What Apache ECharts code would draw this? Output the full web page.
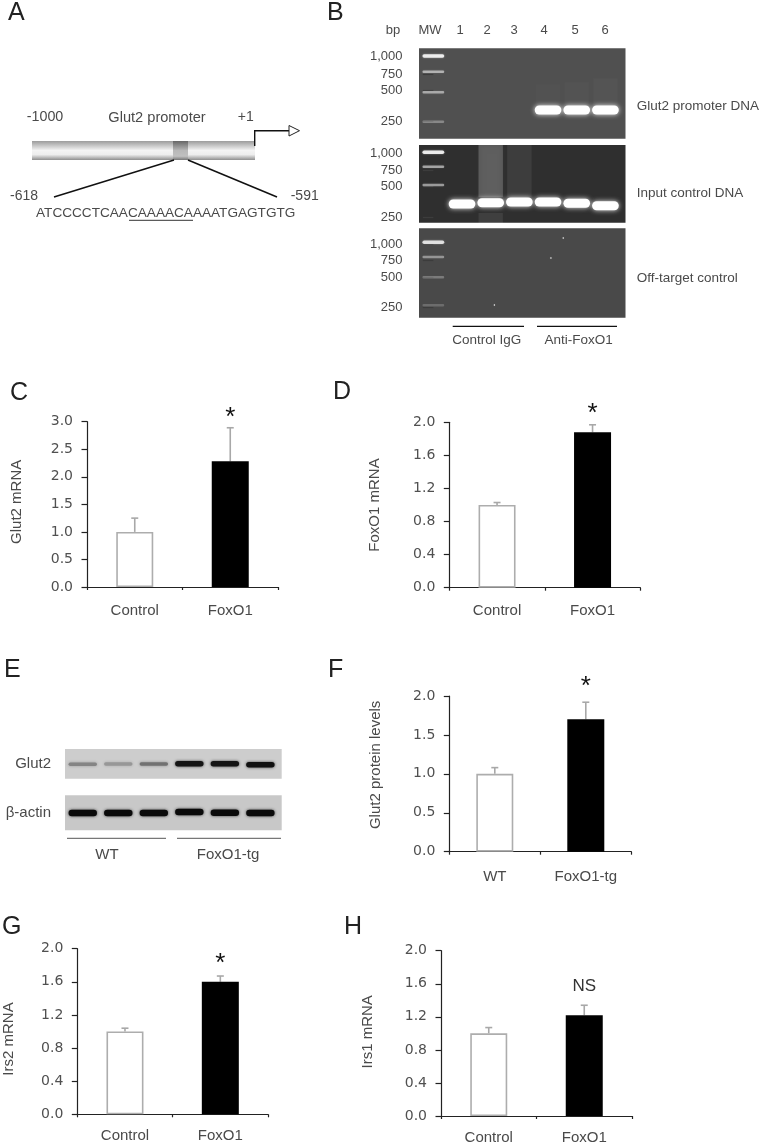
<!DOCTYPE html>
<html><head><meta charset="utf-8">
<style>html,body{margin:0;padding:0;background:#fff}#c{width:762px;height:1143px}</style>
<script src="https://cdn.jsdelivr.net/npm/echarts@6/dist/echarts.min.js"></script>
</head><body><div id="c"></div>
<script>
// ---- bar panels ----
const catsMrna = ['Control','FoxO1'];
const catsProtein = ['WT','FoxO1-tg'];
const glut2Mrna = [1.0,2.28],  glut2MrnaErr = [0.25,0.61];
const foxo1Mrna = [1.0,1.88],  foxo1MrnaErr = [0.03,0.09];
const glut2Prot = [1.0,1.70],  glut2ProtErr = [0.08,0.22];
const irs2Mrna  = [1.0,1.60],  irs2MrnaErr  = [0.04,0.07];
const irs1Mrna  = [1.0,1.22],  irs1MrnaErr  = [0.07,0.12];
// ---- gels: [lane, migration, intensity] ----
const gelLaneLabels = ['MW','1','2','3','4','5','6'];
const gelBp = ['1,000','750','500','250'];
const gel1Ticks = [8.4,25.7,42.4,72.7];
const gel2Ticks = [8.3,25,41.7,72.7];
const gel3Ticks = [15.7,32,49,79.4];
const gel1Ladder = [[0,7.7,1],[0,23.4,.6],[0,44,.55],[0,73.4,.35]];
const gel2Ladder = [[0,7.3,1],[0,21.7,.6],[0,40,.55]];
const gel3Ladder = [[0,14,.9],[0,28.7,.45],[0,49,.3],[0,77,.22]];
const gel1Samples = [[4,61.7],[5,61.7],[6,61.7]];
const gel2Samples = [[1,59],[2,57.7],[3,57],[4,57],[5,58.3],[6,60.7]];
const gel1Smears = [[4,36,58,.012],[5,34,58,.018],[6,30,58,.025]];
const gel2Smears = [[2,0,52,.2],[2,68,78,.08],[3,0,52,.07]];
const gel3Specks = [[4.1,29.7],[2.13,76.7],[4.53,9.7]];
// ---- western blot: [lane, migration, intensity] ----
const blotGlut2 = [[0,15.3,.36],[1,15,.26],[2,15,.46],[3,14.7,.95],[4,14.7,.95],[5,15.7,.97]];
const blotActin = [[0,17.7,1],[1,17.7,1],[2,17.7,1],[3,16.7,1],[4,17.4,1],[5,17.7,1]];

const FONT='"Liberation Sans",Arial,sans-serif', INK='#4a4a4a';
const grid=[],xAxis=[],yAxis=[],series=[];

function barPanel(o){
  const i=grid.length;
  grid.push({left:o.l,top:o.t,width:o.w,height:o.h,outerBoundsMode:'none'});
  xAxis.push({gridIndex:i,type:'category',data:o.cats,
    axisLine:{lineStyle:{color:'#222',width:1.2}},
    axisTick:{show:true,length:3,alignWithLabel:false,lineStyle:{color:'#222',width:1.2}},
    axisLabel:{interval:0,margin:o.catMargin,fontFamily:FONT,fontSize:15,color:INK}});
  yAxis.push({gridIndex:i,type:'value',min:0,max:o.max,interval:o.step,
    name:o.name,nameLocation:'middle',nameGap:o.gap,nameRotate:90,nameMoveOverlap:false,
    nameTextStyle:{fontFamily:FONT,fontSize:15,color:INK,padding:o.pad||0},
    axisLine:{show:true,lineStyle:{color:'#222',width:1.2}},
    axisTick:{show:true,length:5.5,lineStyle:{color:'#222',width:1.2}},
    splitLine:{show:false},
    axisLabel:{margin:14,fontFamily:'"DejaVu Sans",sans-serif',fontSize:14,color:'#505050',
      formatter:v=>v.toFixed(1)}});
  series.push({type:'custom',xAxisIndex:i,yAxisIndex:i,z:1,silent:true,
    data:o.vals.map((v,k)=>[k,v,o.errs[k]]),encode:{x:0,y:[1,2]},
    renderItem:(p,api)=>{
      const a=api.coord([api.value(0),api.value(1)]),b=api.coord([api.value(0),api.value(1)+api.value(2)]);
      const st={stroke:'#a8a8a8',lineWidth:1.6};
      return {type:'group',children:[
        {type:'line',shape:{x1:a[0],y1:a[1],x2:b[0],y2:b[1]},style:st},
        {type:'line',shape:{x1:b[0]-3.5,y1:b[1],x2:b[0]+3.5,y2:b[1]},style:st}]};
    }});
  series.push({type:'bar',xAxisIndex:i,yAxisIndex:i,z:2,barWidth:37,silent:true,
    data:o.vals.map((v,k)=>({value:v,itemStyle:k===0
      ?{color:'#fff',borderColor:'#adadad',borderWidth:1.6}
      :{color:'#000',borderColor:'#000',borderWidth:0}}))});
  series.push({type:'custom',xAxisIndex:i,yAxisIndex:i,z:3,silent:true,
    data:[[1,o.noteAt]],encode:{x:0,y:1},
    renderItem:(p,api)=>{
      const c=api.coord([api.value(0),api.value(1)]);
      const star=o.note==='*';
      return {type:'text',style:{x:c[0],y:c[1]+(star?5:0),text:o.note,align:'center',verticalAlign:'middle',
        fontFamily:FONT,fontSize:star?26:17,fill:star?'#111':'#333'}};
    }});
}
barPanel({l:87,t:421.7,w:191,h:165.3,cats:catsMrna,vals:glut2Mrna,errs:glut2MrnaErr,max:3,step:.5,name:'Glut2 mRNA',gap:63,catMargin:16,note:'*',noteAt:3.16,pad:[0,0,0,5]});
barPanel({l:449.3,t:422.3,w:191,h:165.4,cats:catsMrna,vals:foxo1Mrna,errs:foxo1MrnaErr,max:2,step:.4,name:'FoxO1 mRNA',gap:67,catMargin:15.5,note:'*',noteAt:2.16});
barPanel({l:449.3,t:696,w:182,h:155.7,cats:catsProtein,vals:glut2Prot,errs:glut2ProtErr,max:2,step:.5,name:'Glut2 protein levels',gap:66,catMargin:18,note:'*',noteAt:2.18,pad:[0,0,0,18]});
barPanel({l:77.3,t:948.7,w:190.7,h:165.6,cats:catsMrna,vals:irs2Mrna,errs:irs2MrnaErr,max:2,step:.4,name:'Irs2 mRNA',gap:61,catMargin:14.5,note:'*',noteAt:1.88,pad:[0,15,0,0]});
barPanel({l:441,t:950.7,w:191,h:165.3,cats:catsMrna,vals:irs1Mrna,errs:irs1MrnaErr,max:2,step:.4,name:'Irs1 mRNA',gap:66,catMargin:14,note:'NS',noteAt:1.565,pad:[0,0,0,3]});

function bandSeries(i,data,cfg){
  series.push({type:'custom',xAxisIndex:i,yAxisIndex:i,silent:true,z:cfg.z||3,data,encode:{x:0,y:1},
    renderItem:(p,api)=>{
      const c=api.coord([api.value(0),api.value(1)]);
      const w=api.size([cfg.lanes,0])[0], t=api.value(2);
      const h=cfg.height(t);
      return {type:'rect',shape:{x:c[0]-w/2,y:c[1]-h/2,width:w,height:h,r:h/2},
        style:{fill:cfg.fill(t),shadowBlur:cfg.blur,shadowColor:cfg.glow(t)}};
    }});
}
function gelPanel(o){
  const i=grid.length;
  grid.push({left:419,top:o.t,width:206.5,height:o.h,show:true,backgroundColor:o.bg,borderWidth:0,z:0,outerBoundsMode:'none'});
  xAxis.push({gridIndex:i,type:'value',min:-.5,max:6.7,show:false});
  yAxis.push({gridIndex:i,type:'value',inverse:true,min:0,max:o.h,offset:1.5,
    axisLine:{show:false},splitLine:{show:false},
    axisTick:{show:true,length:10.5,customValues:o.ticks,lineStyle:{color:'#3c3c3c',width:1.2}},
    axisLabel:{show:true,margin:15,customValues:o.ticks,fontFamily:FONT,fontSize:13,color:INK,
      formatter:v=>gelBp[o.ticks.findIndex(x=>Math.abs(x-v)<.01)]}});
  if(o.smears) series.push({type:'custom',xAxisIndex:i,yAxisIndex:i,silent:true,z:2,data:o.smears,encode:{x:0,y:[1,2]},
    renderItem:(p,api)=>{
      const a=api.coord([api.value(0),api.value(1)]),b=api.coord([api.value(0),api.value(2)]),w=api.size([.85,0])[0];
      return {type:'rect',shape:{x:a[0]-w/2,y:a[1],width:w,height:b[1]-a[1]},
        style:{fill:`rgba(255,255,255,${api.value(3)})`,shadowBlur:5,shadowColor:`rgba(255,255,255,${api.value(3)})`}};
    }});
  bandSeries(i,o.ladder,{lanes:.76,height:t=>t>.8?3.5:2.4,fill:t=>`rgba(255,255,255,${t*.85})`,glow:t=>`rgba(255,255,255,${t*.5})`,blur:2});
  if(o.samples) bandSeries(i,o.samples.map(s=>[s[0],s[1],1]),{lanes:.93,height:()=>9,fill:()=>'#fff',glow:()=>'rgba(255,255,255,.9)',blur:5});
  if(o.specks) bandSeries(i,o.specks.map(s=>[s[0],s[1],1]),{lanes:.05,height:()=>1.5,fill:()=>'#eee',glow:()=>'rgba(255,255,255,.3)',blur:1});
}
gelPanel({t:48.3,h:90.4,bg:'#505050',ticks:gel1Ticks,ladder:gel1Ladder,samples:gel1Samples,smears:gel1Smears});
gelPanel({t:145,h:77.7,bg:'#2f2f2f',ticks:gel2Ticks,ladder:gel2Ladder,samples:gel2Samples,smears:gel2Smears});
gelPanel({t:228.3,h:89.4,bg:'#494949',ticks:gel3Ticks,ladder:gel3Ladder,specks:gel3Specks});

function blotPanel(o){
  const i=grid.length;
  grid.push({left:65,top:o.t,width:216.7,height:o.h,show:true,backgroundColor:o.bg,borderWidth:0,z:0,outerBoundsMode:'none'});
  xAxis.push({gridIndex:i,type:'value',min:-.5,max:5.6,show:false});
  yAxis.push({gridIndex:i,type:'value',inverse:true,min:0,max:o.h,name:o.name,nameLocation:'middle',nameRotate:0,nameGap:14,nameMoveOverlap:false,
    nameTextStyle:{fontFamily:FONT,fontSize:15,color:INK,align:'right',verticalAlign:'middle'},
    axisLine:{show:false},axisTick:{show:false},axisLabel:{show:false},splitLine:{show:false}});
  bandSeries(i,o.data,{lanes:.8,height:o.height,
    fill:t=>{const g=Math.round(200*(1-t)+10*t);return `rgb(${g},${g},${g})`;},
    glow:t=>`rgba(0,0,0,${t*.7})`,blur:3});
}
blotPanel({t:749,h:29.7,bg:'#cdcdcd',name:'Glut2',data:blotGlut2,height:t=>t>.8?5.5:3.5});
blotPanel({t:795.3,h:35,bg:'#c8c8c8',name:'β-actin',data:blotActin,height:()=>6.5});

// ---- free text & diagram pieces ----
const T=(x,y,text,s={})=>({type:'text',silent:true,z:10,style:Object.assign({x,y,text,align:'center',verticalAlign:'middle',
  fontFamily:FONT,fontSize:13,fill:INK},s)});
const L=(x1,y1,x2,y2,c='#111',w=1.5)=>({type:'line',silent:true,z:10,shape:{x1,y1,x2,y2},style:{stroke:c,lineWidth:w}});
const letter=(x,y,t)=>T(x,y,t,{align:'left',fontSize:25,fill:'#222'});
const g=[
 letter(8,13,'A'),letter(327,13,'B'),letter(10,393,'C'),letter(333,392,'D'),
 letter(4,670,'E'),letter(328,670,'F'),letter(2,927,'G'),letter(344,927,'H'),
 // panel A
 {type:'rect',silent:true,z:5,shape:{x:32,y:141,width:223,height:19},style:{fill:new echarts.graphic.LinearGradient(0,0,0,1,[
   {offset:0,color:'#9c9c9c'},{offset:.5,color:'#f4f4f4'},{offset:.72,color:'#ededed'},{offset:1,color:'#8e8e8e'}])}},
 {type:'rect',silent:true,z:6,shape:{x:173,y:141,width:15,height:19},style:{fill:new echarts.graphic.LinearGradient(0,0,0,1,[
   {offset:0,color:'#666'},{offset:.5,color:'#b8b8b8'},{offset:.8,color:'#c0c0c0'},{offset:1,color:'#777'}])}},
 {type:'polyline',silent:true,z:10,shape:{points:[[254.7,146],[254.7,130.7],[289,130.7]]},style:{stroke:'#111',lineWidth:1.4,fill:'none'}},
 {type:'polygon',silent:true,z:10,shape:{points:[[289,125.5],[299.5,130.7],[289,136]]},style:{stroke:'#222',lineWidth:1,fill:'#fff'}},
 L(174,160,54,197),L(188,160,277,197),
 T(45,117.5,'-1000',{fontSize:14.3}),T(157,117.5,'Glut2 promoter',{fontSize:14.6}),T(245.7,117.5,'+1',{fontSize:14}),
 T(24,196,'-618',{fontSize:14}),T(304.7,196,'-591',{fontSize:14}),
 T(165.7,213.5,'ATCCCCTCAACAAAACAAAATGAGTGTG',{fontSize:13.6}),
 L(129,220.3,193,220.3,'#333',1),
 // panel B
 T(393,30,'bp'),T(430,30,'MW'),
 ...gelLaneLabels.slice(1).map((t,i)=>T([460,487,514,544,575,605][i],30,t)),
 T(636.7,106.7,'Glut2 promoter DNA',{align:'left',fontSize:13.5}),T(636.7,193.3,'Input control DNA',{align:'left',fontSize:13.5}),T(636.7,278.3,'Off-target control',{align:'left',fontSize:13.5}),
 L(452.7,326.3,524,326.3,'#111',1.2),L(537,326.3,617,326.3,'#111',1.2),
 T(486.7,340,'Control IgG',{fontSize:13.5}),T(578.7,340,'Anti-FoxO1',{fontSize:13.5}),
 // panel E
 L(67,838.3,166,838.3,'#555',1),L(177,838.3,281,838.3,'#555',1),
 T(107,855,'WT',{fontSize:15}),T(228,855,'FoxO1-tg',{fontSize:15}),
];
const chart=echarts.init(document.getElementById('c'),null,{renderer:'canvas',width:762,height:1143});
chart.setOption({animation:false,backgroundColor:'#fff',grid,xAxis,yAxis,series,graphic:g});
</script></body></html>
